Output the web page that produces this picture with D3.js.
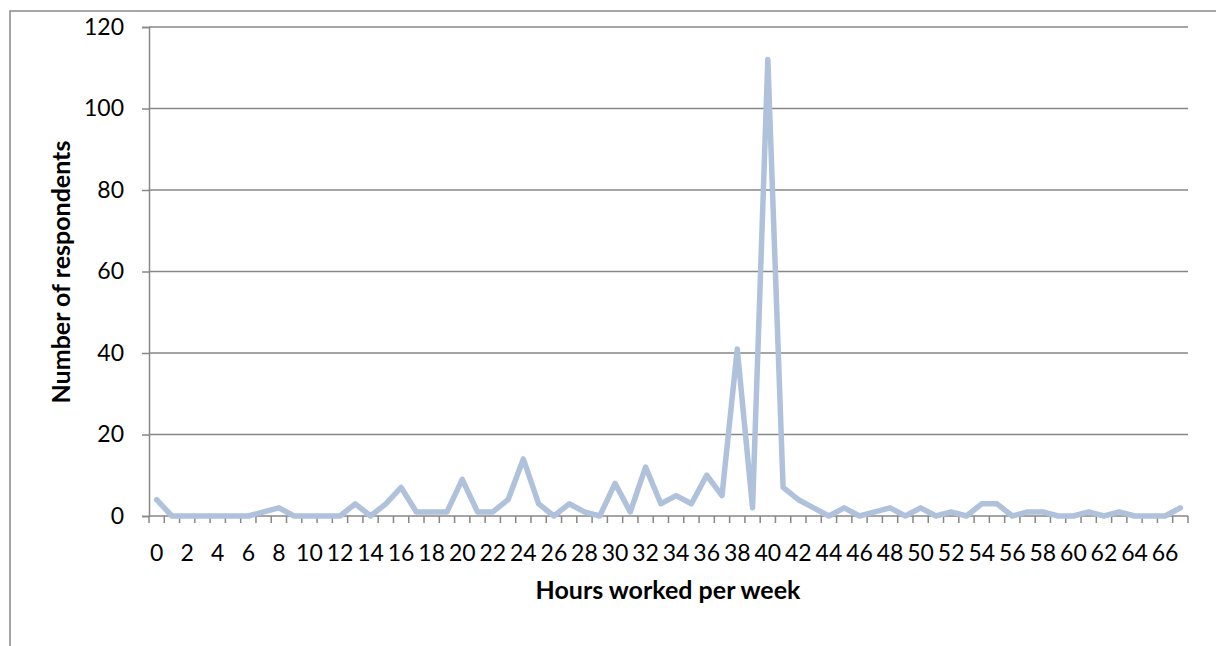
<!DOCTYPE html>
<html>
<head>
<meta charset="utf-8">
<script src="https://cdn.jsdelivr.net/npm/d3@7"></script>
<style>
  html, body { margin: 0; padding: 0; background: #fff; }
  svg { display: block; }
  text { font-family: Lato, "Open Sans", sans-serif; fill: #000; }
</style>
</head>
<body>
<svg id="chart" width="1216" height="646"></svg>
<script>
// Hours worked per week (categories 0..67)
const hours = d3.range(0, 68);
// Number of respondents for each hour value
const respondents = [
  4, 0, 0, 0, 0, 0, 0, 1, 2, 0,
  0, 0, 0, 3, 0, 3, 7, 1, 1, 1,
  9, 1, 1, 4, 14, 3, 0, 3, 1, 0,
  8, 1, 12, 3, 5, 3, 10, 5, 41, 2,
  112, 7, 4, 2, 0, 2, 0, 1, 2, 0,
  2, 0, 1, 0, 3, 3, 0, 1, 1, 0,
  0, 1, 0, 1, 0, 0, 0, 2
];
const yTicks = [0, 20, 40, 60, 80, 100, 120];
const xTickLabels = d3.range(0, 67, 2);

const svg = d3.select("#chart");
const pLeft = 149, pRight = 1188, pTop = 27, pBottom = 516;

const x = d3.scaleBand().domain(hours).range([pLeft, pRight]).paddingInner(0).paddingOuter(0);
const y = d3.scaleLinear().domain([0, 120]).range([pBottom, pTop]);

// outer chart border (clipped by window at right/bottom)
svg.append("rect")
  .attr("x", 10).attr("y", 11)
  .attr("width", 1240).attr("height", 700)
  .attr("fill", "none").attr("stroke", "#898989").attr("stroke-width", 1.5);

// horizontal gridlines
svg.append("g").selectAll("line").data(yTicks.filter(d => d > 0)).join("line")
  .attr("x1", pLeft).attr("x2", pRight)
  .attr("y1", d => y(d)).attr("y2", d => y(d))
  .attr("stroke", "#878787").attr("stroke-width", 1.5);

// y axis
const yAxis = d3.axisLeft(y).tickValues(yTicks).tickSize(7).tickPadding(18).tickFormat(d3.format("d"));
const gy = svg.append("g").attr("transform", `translate(${pLeft},0)`).call(yAxis);
gy.select(".domain").attr("stroke", "#878787").attr("stroke-width", 1.5);
gy.selectAll(".tick line").attr("stroke", "#878787").attr("stroke-width", 1.5);
gy.selectAll(".tick text").attr("font-size", 23).attr("font-family", "Lato, sans-serif").attr("fill", "#000");

// x axis: ticks at category boundaries
const boundaries = hours.map(h => x(h)).concat([pRight]);
const gx = svg.append("g");
gx.append("line").attr("x1", pLeft).attr("x2", pRight).attr("y1", pBottom).attr("y2", pBottom)
  .attr("stroke", "#878787").attr("stroke-width", 1.5);
gx.selectAll("line.tk").data(boundaries).join("line").attr("class", "tk")
  .attr("x1", d => d).attr("x2", d => d).attr("y1", pBottom).attr("y2", pBottom + 7)
  .attr("stroke", "#878787").attr("stroke-width", 1.5);
gx.selectAll("text").data(xTickLabels).join("text")
  .attr("x", d => x(d) + x.bandwidth() / 2)
  .attr("y", 561)
  .attr("text-anchor", "middle")
  .attr("font-size", 23)
  .text(d => d);

// line
const line = d3.line()
  .x((d, i) => x(hours[i]) + x.bandwidth() / 2)
  .y(d => y(d));
svg.append("path").datum(respondents)
  .attr("d", line)
  .attr("fill", "none")
  .attr("stroke", "#b0c1db")
  .attr("stroke-width", 5.5)
  .attr("stroke-linejoin", "round")
  .attr("stroke-linecap", "round");

// axis titles
svg.append("text")
  .attr("x", 668).attr("y", 599)
  .attr("text-anchor", "middle").attr("font-size", 25).attr("font-weight", "bold")
  .text("Hours worked per week");
svg.append("text")
  .attr("transform", `translate(70,${272}) rotate(-90)`)
  .attr("text-anchor", "middle").attr("font-size", 25).attr("font-weight", "bold")
  .text("Number of respondents");
</script>
</body>
</html>
